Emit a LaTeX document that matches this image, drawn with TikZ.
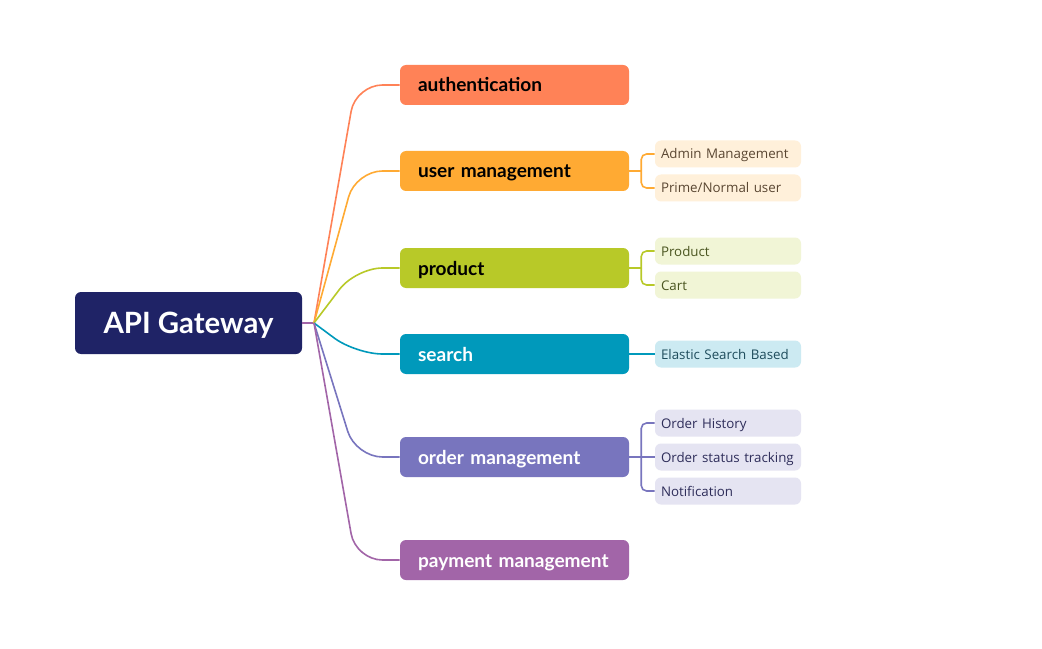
\documentclass[tikz,border=0pt]{standalone}
\usepackage{fontspec}
\setmainfont{Lato}
\newfontfamily\leaffont{Open Sans}
\usetikzlibrary{positioning,calc}

\definecolor{rootc}{HTML}{1F2366}
\definecolor{authc}{HTML}{FF8257}
\definecolor{userc}{HTML}{FFAA33}
\definecolor{prodc}{HTML}{B8C928}
\definecolor{searchc}{HTML}{0099BB}
\definecolor{orderc}{HTML}{7875BE}
\definecolor{payc}{HTML}{A265A8}
\definecolor{userl}{HTML}{FFF0DA}
\definecolor{prodl}{HTML}{F1F5D6}
\definecolor{searchl}{HTML}{CCEAF2}
\definecolor{orderl}{HTML}{E5E4F2}
\definecolor{usert}{HTML}{5A4632}
\definecolor{prodt}{HTML}{4A5520}
\definecolor{searcht}{HTML}{1E4C5C}
\definecolor{ordert}{HTML}{2E2D5A}

\tikzset{
  rootbox/.style={fill=rootc, text=white, rounded corners=4.5pt,
    minimum width=170.25pt, minimum height=46.5pt,
    text height=16pt, text depth=0pt,
    font=\fontsize{22}{25}\selectfont\bfseries},
  branchbox/.style={fill=#1, rounded corners=4.5pt,
    minimum width=171.75pt, minimum height=30pt, inner xsep=13.5pt,
    text width=144.75pt, align=left, text height=10.5pt, text depth=0pt,
    font=\fontsize{14.3}{17}\selectfont\bfseries},
  leafbox/.style={fill=#1, rounded corners=4.5pt,
    minimum width=109.5pt, minimum height=20.25pt, inner xsep=4.5pt,
    text width=100.5pt, align=left, text height=7.5pt, text depth=0pt,
    font=\leaffont\fontsize{10}{12}\selectfont},
  link/.style={draw=#1, line width=1.2pt},
  leafline/.style={draw=#1, line width=1.2pt, rounded corners=4pt}
}

\begin{document}
\begin{tikzpicture}[x=0.75pt,y=-0.75pt]
\fill[white] (0,0) rectangle (1042,649);
\useasboundingbox (0,0) rectangle (1042,649);

% centre and main topics
\node[rootbox] (api) at (188.5,323) {API Gateway};
\coordinate (hub) at (314,323);

\node[branchbox=authc] (auth) at (514.5,85) {authentication};
\node[branchbox=userc] (user) at (514.5,171) {user management};
\node[branchbox=prodc] (prod) at (514.5,268) {product};
\node[branchbox=searchc, text=white] (search) at (514.5,354) {search};
\node[branchbox=orderc, text=white] (order) at (514.5,457) {order management};
\node[branchbox=payc, text=white] (pay) at (514.5,560) {payment management};

% subtopics
\node[leafbox=userl, text=usert] (admin) at (728,154) {Admin Management};
\node[leafbox=userl, text=usert] (prime) at (728,188) {Prime/Normal user};
\node[leafbox=prodl, text=prodt] (prodleaf) at (728,251) {Product};
\node[leafbox=prodl, text=prodt] (cart) at (728,285) {Cart};
\node[leafbox=searchl, text=searcht] (elastic) at (728,354) {Elastic Search Based};
\node[leafbox=orderl, text=ordert] (history) at (728,423) {Order History};
\node[leafbox=orderl, text=ordert] (status) at (728,457) {Order status tracking};
\node[leafbox=orderl, text=ordert] (notify) at (728,491) {Notification};

% connectors from the centre
\draw[link=payc] (api.east) -- (hub);
\foreach \b/\c in {auth/authc, user/userc, prod/prodc, search/searchc, order/orderc, pay/payc}
  \draw[link=\c, rounded corners=20pt] (hub) -- ([xshift=-33pt]\b.west) -- (\b.west);

% connectors to subtopics
\coordinate (uj) at ([xshift=9pt]user.east);
\draw[link=userc] (user.east) -- (uj);
\draw[leafline=userc] (uj) |- (admin.west);
\draw[leafline=userc] (uj) |- (prime.west);

\coordinate (pj) at ([xshift=9pt]prod.east);
\draw[link=prodc] (prod.east) -- (pj);
\draw[leafline=prodc] (pj) |- (prodleaf.west);
\draw[leafline=prodc] (pj) |- (cart.west);

\draw[link=searchc] (search.east) -- (elastic.west);

\coordinate (oj) at ([xshift=9pt]order.east);
\draw[link=orderc] (order.east) -- (status.west);
\draw[leafline=orderc] (oj) |- (history.west);
\draw[leafline=orderc] (oj) |- (notify.west);
\end{tikzpicture}
\end{document}
